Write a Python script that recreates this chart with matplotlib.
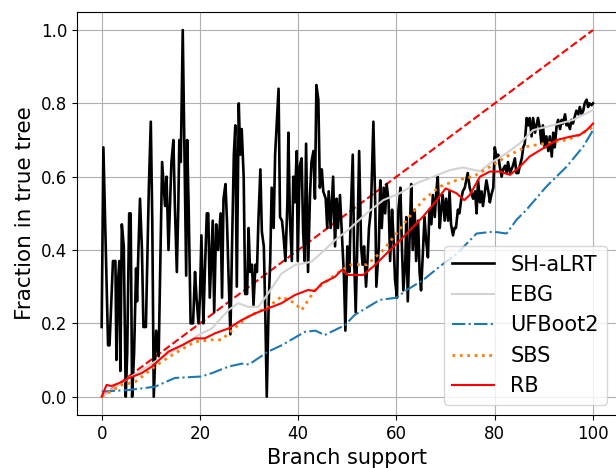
import matplotlib
matplotlib.use("Agg")
import matplotlib.pyplot as plt

# ---- data ----
sh_x = [0.0, 0.35, 1.3, 1.6, 2.3, 2.8, 3.0, 3.3, 3.6, 3.8, 4.1, 4.5, 4.9, 5.2, 5.6, 5.9,
        6.2, 6.6, 7.0, 7.2, 7.5, 7.8, 8.2, 8.5, 9.0, 9.6, 10.0, 10.3, 10.6, 11.1, 11.6, 12.3,
        12.9, 13.2, 13.6, 13.9, 14.2, 14.6, 14.9, 15.3, 15.6, 15.8, 16.1, 16.5, 16.8, 17.2,
        17.4, 17.7, 18.1, 18.6, 19.0, 19.3, 19.7, 20.0, 20.3, 20.7, 21.0, 21.4, 21.7, 22.0,
        22.6, 22.9, 23.3, 23.7, 24.2, 24.5, 24.8, 25.2, 25.5, 25.8, 26.2, 26.5, 26.9, 27.2,
        27.5, 27.9, 28.2, 28.5, 28.9, 29.2, 29.6, 29.9, 30.2, 30.6, 30.9, 31.3, 31.6, 31.9,
        32.3, 32.6, 33.0, 33.3, 33.6, 34.0, 34.3, 34.6, 35.0, 35.3, 35.7, 36.0, 36.3, 36.7,
        37.0, 37.4, 37.8, 38.0, 38.3, 38.7, 39.0, 39.3, 39.7, 39.9, 40.3, 40.7, 41.0, 41.3,
        41.6, 42.0, 42.4, 42.7, 43.1, 43.4, 43.7, 44.1, 44.4, 44.8, 45.1, 45.6, 45.9, 46.2,
        46.6, 47.1, 47.5, 47.8, 48.1, 48.5, 49.0, 49.3, 49.6, 50.0, 50.4, 50.7, 51.1, 51.4,
        51.7, 52.1, 52.4, 52.8, 53.1, 53.4, 53.8, 54.1, 54.4, 54.8, 55.3, 55.7, 55.9, 56.4,
        56.7, 57.0, 57.4, 57.7, 58.0, 58.4, 58.7, 59.1, 59.4, 59.7, 60.1, 60.4, 60.8, 61.1,
        61.4, 61.8, 62.0, 62.3, 62.7, 63.0, 63.3, 63.7, 64.0, 64.4, 64.7, 65.0, 65.4, 65.7,
        66.0, 66.4, 66.7, 67.1, 67.4, 67.8, 68.1, 68.4, 68.8, 69.1, 69.4, 69.8, 70.1, 70.5,
        70.8, 71.1, 71.5, 71.8, 72.1, 72.5, 72.8, 73.2, 73.5, 73.9, 74.2, 74.5, 74.9, 75.6,
        76.0, 76.3, 76.6, 77.0, 77.3, 77.6, 78.0, 78.3, 78.7, 79.0, 79.3, 79.7, 80.0, 80.4,
        80.7, 81.0, 81.4, 81.7, 82.1, 82.4, 82.7, 83.1, 83.4, 83.7, 84.1, 84.4, 84.8, 85.1,
        85.5, 85.8, 86.1, 86.5, 86.8, 87.1, 87.5, 87.8, 88.2, 88.8, 89.2, 89.5, 89.8, 90.2,
        90.5, 90.9, 91.2, 91.6, 91.9, 92.2, 92.6, 92.9, 93.3, 93.6, 93.9, 94.3, 94.6, 94.9,
        95.3, 95.6, 95.9, 96.3, 96.6, 97.0, 97.3, 97.7, 98.0, 98.3, 98.7, 99.0, 99.3, 99.7,
        100.0]
sh_y = [0.19, 0.68, 0.14, 0.14, 0.37, 0.37, 0.10, 0.31, 0.37, 0.07, 0.47, 0.41, 0.00, 0.12, 0.50, 0.50,
        0.00, 0.12, 0.35, 0.26, 0.41, 0.54, 0.40, 0.19, 0.19, 0.57, 0.75, 0.48, 0.00, 0.18, 0.11, 0.64,
        0.52, 0.60, 0.40, 0.52, 0.64, 0.70, 0.52, 0.34, 0.52, 0.70, 0.64, 1.00, 0.71, 0.33,
        0.70, 0.52, 0.20, 0.20, 0.34, 0.27, 0.20, 0.27, 0.44, 0.20, 0.34, 0.50, 0.50, 0.27,
        0.48, 0.23, 0.47, 0.40, 0.50, 0.27, 0.54, 0.58, 0.48, 0.34, 0.17, 0.39, 0.66, 0.74,
        0.30, 0.80, 0.66, 0.73, 0.60, 0.28, 0.28, 0.46, 0.34, 0.36, 0.25, 0.36, 0.34, 0.48,
        0.62, 0.45, 0.41, 0.23, 0.00, 0.26, 0.37, 0.57, 0.46, 0.66, 0.76, 0.84, 0.49, 0.48,
        0.44, 0.37, 0.53, 0.72, 0.49, 0.37, 0.60, 0.53, 0.67, 0.37, 0.63, 0.65, 0.45, 0.37,
        0.69, 0.34, 0.55, 0.64, 0.67, 0.54, 0.85, 0.81, 0.57, 0.62, 0.56, 0.54, 0.46, 0.56,
        0.46, 0.60, 0.41, 0.54, 0.46, 0.55, 0.41, 0.33, 0.18, 0.41, 0.34, 0.50, 0.66, 0.37,
        0.23, 0.46, 0.67, 0.41, 0.36, 0.41, 0.30, 0.37, 0.46, 0.51, 0.75, 0.51, 0.30, 0.41,
        0.59, 0.46, 0.57, 0.50, 0.58, 0.53, 0.37, 0.51, 0.43, 0.32, 0.27, 0.51, 0.57, 0.41,
        0.29, 0.37, 0.49, 0.26, 0.45, 0.58, 0.40, 0.51, 0.37, 0.48, 0.34, 0.29, 0.40, 0.49,
        0.43, 0.38, 0.51, 0.47, 0.55, 0.49, 0.56, 0.60, 0.46, 0.51, 0.55, 0.48, 0.54, 0.48,
        0.56, 0.47, 0.44, 0.46, 0.46, 0.51, 0.50, 0.54, 0.56, 0.57, 0.59, 0.61, 0.57, 0.54,
        0.56, 0.50, 0.59, 0.53, 0.56, 0.52, 0.56, 0.59, 0.56, 0.53, 0.55, 0.57, 0.68, 0.65,
        0.66, 0.63, 0.60, 0.62, 0.63, 0.61, 0.64, 0.61, 0.62, 0.63, 0.65, 0.61, 0.61, 0.63,
        0.65, 0.68, 0.69, 0.76, 0.74, 0.76, 0.71, 0.76, 0.72, 0.76, 0.73, 0.69, 0.74, 0.68,
        0.71, 0.67, 0.71, 0.655, 0.72, 0.68, 0.74, 0.755, 0.73, 0.755, 0.745, 0.77, 0.74, 0.745,
        0.73, 0.755, 0.745, 0.765, 0.78, 0.77, 0.79, 0.77, 0.78, 0.80, 0.81, 0.79, 0.80, 0.795,
        0.80]

ebg_x = [0, 5.4, 10.8, 15.6, 19.7, 22.4, 25.8, 27.8, 29.8, 31.9, 33.9, 36.6, 39.3, 42.7,
         45.4, 47.5, 50.2, 53.9, 57.3, 60.7, 64.1, 67.5, 70.9, 73.5, 77.0, 79.0, 82.4, 85.1,
         87.8, 90.5, 93.2, 96.0, 100]
ebg_y = [0.0, 0.05, 0.095, 0.132, 0.168, 0.186, 0.236, 0.255, 0.245, 0.245, 0.282, 0.336,
         0.359, 0.368, 0.40, 0.427, 0.455, 0.50, 0.536, 0.555, 0.582, 0.60, 0.618, 0.625,
         0.615, 0.636, 0.664, 0.691, 0.727, 0.736, 0.745, 0.755, 0.782]

uf_x = [0, 5.4, 10.8, 14.9, 20.3, 22.4, 25.8, 28.5, 30.0, 33.9, 36.6, 41.4, 43.5, 45.4,
        49.5, 51.5, 56.6, 60.0, 62.1, 65.4, 68.8, 72.3, 76.3, 79.7, 82.4, 84.4, 86.4, 90.5,
        94.6, 98.0, 100]
uf_y = [0.014, 0.018, 0.027, 0.051, 0.055, 0.064, 0.082, 0.09, 0.088, 0.123, 0.14, 0.177,
        0.18, 0.168, 0.195, 0.223, 0.264, 0.27, 0.291, 0.318, 0.355, 0.39, 0.445, 0.45,
        0.445, 0.482, 0.509, 0.573, 0.627, 0.682, 0.727]

sbs_x = [0, 4.1, 6.8, 10.8, 12.2, 14.9, 19.0, 22.4, 24.4, 26.4, 29.8, 33.9, 36.6, 39.3,
         40.7, 43.4, 46.1, 48.8, 50.8, 54.0, 57.3, 60.0, 62.1, 65.4, 68.8, 72.2, 75.6,
         79.0, 82.4, 86.4, 90.5, 94.6, 97.3, 100]
sbs_y = [0.0, 0.032, 0.04, 0.082, 0.095, 0.118, 0.15, 0.155, 0.155, 0.18, 0.218, 0.245,
         0.273, 0.255, 0.236, 0.291, 0.318, 0.345, 0.36, 0.36, 0.40, 0.445, 0.482, 0.536,
         0.573, 0.59, 0.60, 0.627, 0.655, 0.682, 0.691, 0.70, 0.714, 0.736]

rb_x = [0, 1.0, 2.0, 4.1, 5.4, 8.1, 10.2, 13.6, 16.3, 19.0, 21.0, 23.1, 25.8, 28.5, 31.2,
        33.9, 36.6, 39.3, 42.0, 43.4, 44.8, 47.5, 48.8, 50.2, 53.2, 55.3, 58.7, 62.1, 65.4,
        68.2, 70.0, 72.2, 73.8, 74.9, 77.0, 79.0, 81.0, 83.1, 85.1, 87.1, 89.8, 92.6, 95.3,
        97.3, 98.7, 100]
rb_y = [0.0, 0.032, 0.029, 0.04, 0.05, 0.064, 0.082, 0.123, 0.14, 0.159, 0.159, 0.173,
        0.186, 0.209, 0.227, 0.241, 0.255, 0.277, 0.291, 0.288, 0.309, 0.327, 0.345, 0.332,
        0.332, 0.355, 0.40, 0.445, 0.491, 0.536, 0.568, 0.555, 0.536, 0.55, 0.60, 0.614,
        0.614, 0.605, 0.627, 0.655, 0.677, 0.70, 0.709, 0.714, 0.727, 0.745]

diag_x = [0, 100]
diag_y = [0, 1]

xticks = [0, 20, 40, 60, 80, 100]
yticks = [0.0, 0.2, 0.4, 0.6, 0.8, 1.0]

# ---- figure ----
fig = plt.figure(figsize=(6.16, 4.68), dpi=100)
ax = fig.add_axes([77.1 / 616, 53.0 / 468, 540.5 / 616, 403.3 / 468])

ax.plot(diag_x, diag_y, color="red", linestyle="--", linewidth=1.5)
ax.plot(sh_x, sh_y, color="black", linewidth=1.9, label="SH-aLRT")
ax.plot(ebg_x, ebg_y, color="lightgray", linewidth=1.5, label="EBG")
ax.plot(uf_x, uf_y, color="tab:blue", linestyle="-.", linewidth=1.5, label="UFBoot2")
ax.plot(sbs_x, sbs_y, color="tab:orange", linestyle=":", linewidth=2.0, label="SBS")
ax.plot(rb_x, rb_y, color="red", linewidth=1.5, label="RB")

ax.set_xlim(-5, 105)
ax.set_ylim(-0.05, 1.05)
ax.set_xticks(xticks)
ax.set_yticks(yticks)
ax.set_xticklabels([str(v) for v in xticks])
ax.set_yticklabels([f"{v:.1f}" for v in yticks])
ax.tick_params(labelsize=12)
ax.grid(True)
ax.set_xlabel("Branch support", fontsize=15)
ax.set_ylabel("Fraction in true tree", fontsize=15.5)
ax.legend(loc="lower right", fontsize=15)

fig.savefig("out.png", dpi=100)
